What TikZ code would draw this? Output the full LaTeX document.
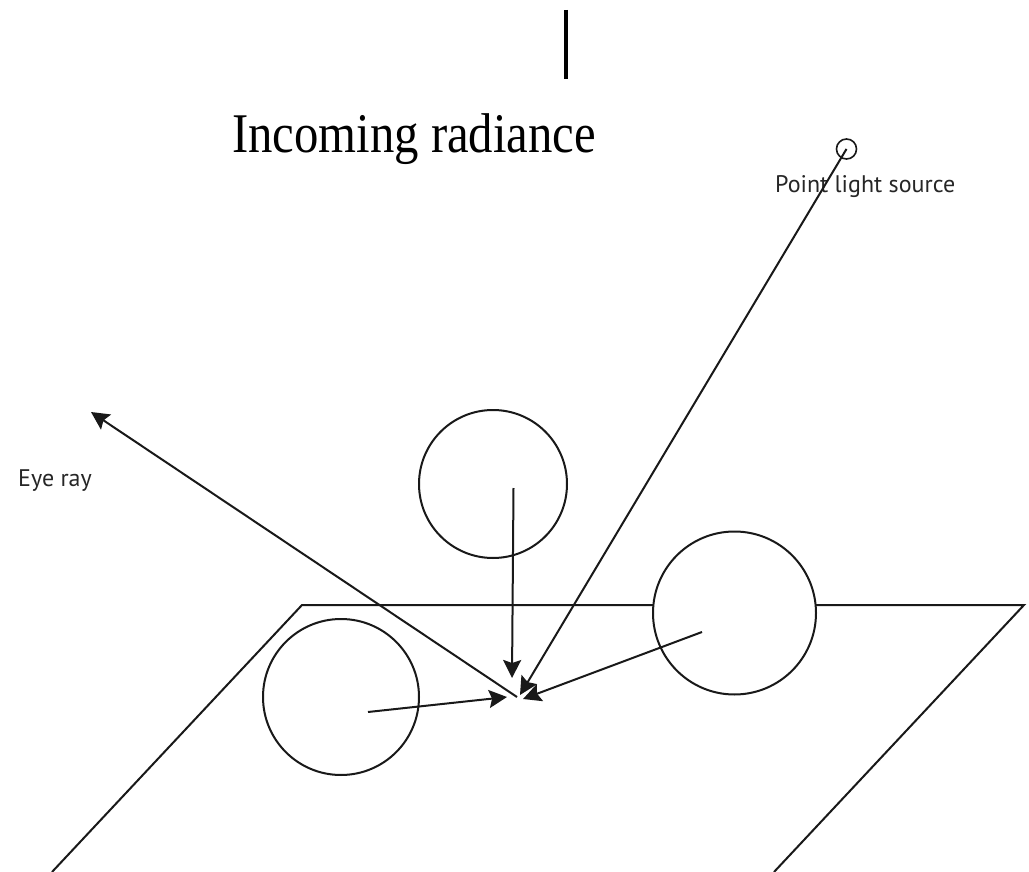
\documentclass[tikz,border=0pt]{standalone}
\usepackage{fontspec}
\usepackage{graphicx}
\newfontfamily\labelfont{PT Sans}
\newfontfamily\titlefont{Liberation Serif}
\usetikzlibrary{arrows.meta}
\begin{document}
\begin{tikzpicture}[x=1pt,y=-1pt,
  ln/.style={line width=2pt,black!90},
  arr/.style={ln,-{Stealth[length=18pt,width=18pt,inset=3pt]}},
  sphere/.style={circle,draw=black!90,line width=2pt,fill=white,inner sep=0pt},
  lbl/.style={font=\labelfont\fontsize{24}{24}\selectfont,anchor=base west,inner sep=0pt,text=black!85}]
\useasboundingbox (0,0) rectangle (1029,872);
% vertical bar
\coordinate (barT) at (565.5,10);
\coordinate (barB) at (565.5,79);
\draw[line width=4pt] (barT) -- (barB);
% title
\node[anchor=base west,inner sep=0pt] (title) at (232,153)
  {\scalebox{0.87}[1]{\titlefont\fontsize{56}{56}\selectfont Incoming radiance}};
% plane
\coordinate (pTL) at (302,605);
\coordinate (pTR) at (1024,605);
\coordinate (pBL) at (52,872);
\coordinate (pBR) at (774,872);
\draw[ln] (pBL) -- (pTL) -- (pTR) -- (pBR);
% spheres
\node[sphere,minimum size=148pt] (sTop) at (493,484) {};
\node[sphere,minimum size=163pt] (sRight) at (734.5,613) {};
\node[sphere,minimum size=156pt] (sLeft) at (341,697) {};
% light source
\node[circle,draw=black!90,line width=1.6pt,minimum size=20pt,inner sep=0pt] (light) at (846.5,149) {};
\node[lbl] (lightlbl) at (775,193) {Point light source};
\node[lbl] (eyelbl) at (18,486) {Eye ray};
% points
\coordinate (hit) at (517,697);
\coordinate (eyeTip) at (91,412);
\coordinate (topStart) at (513.5,488);
\coordinate (topTip) at (512,678);
\coordinate (lightTip) at (520,695);
\coordinate (rightStart) at (702,632);
\coordinate (rightTip) at (523,699);
\coordinate (leftStart) at (368,712);
\coordinate (leftTip) at (507,697);
% rays
\draw[arr] (hit) -- (eyeTip);
\draw[arr] (topStart) -- (topTip);
\draw[arr] (light.center) -- (lightTip);
\draw[arr] (rightStart) -- (rightTip);
\draw[arr] (leftStart) -- (leftTip);
\end{tikzpicture}
\end{document}
